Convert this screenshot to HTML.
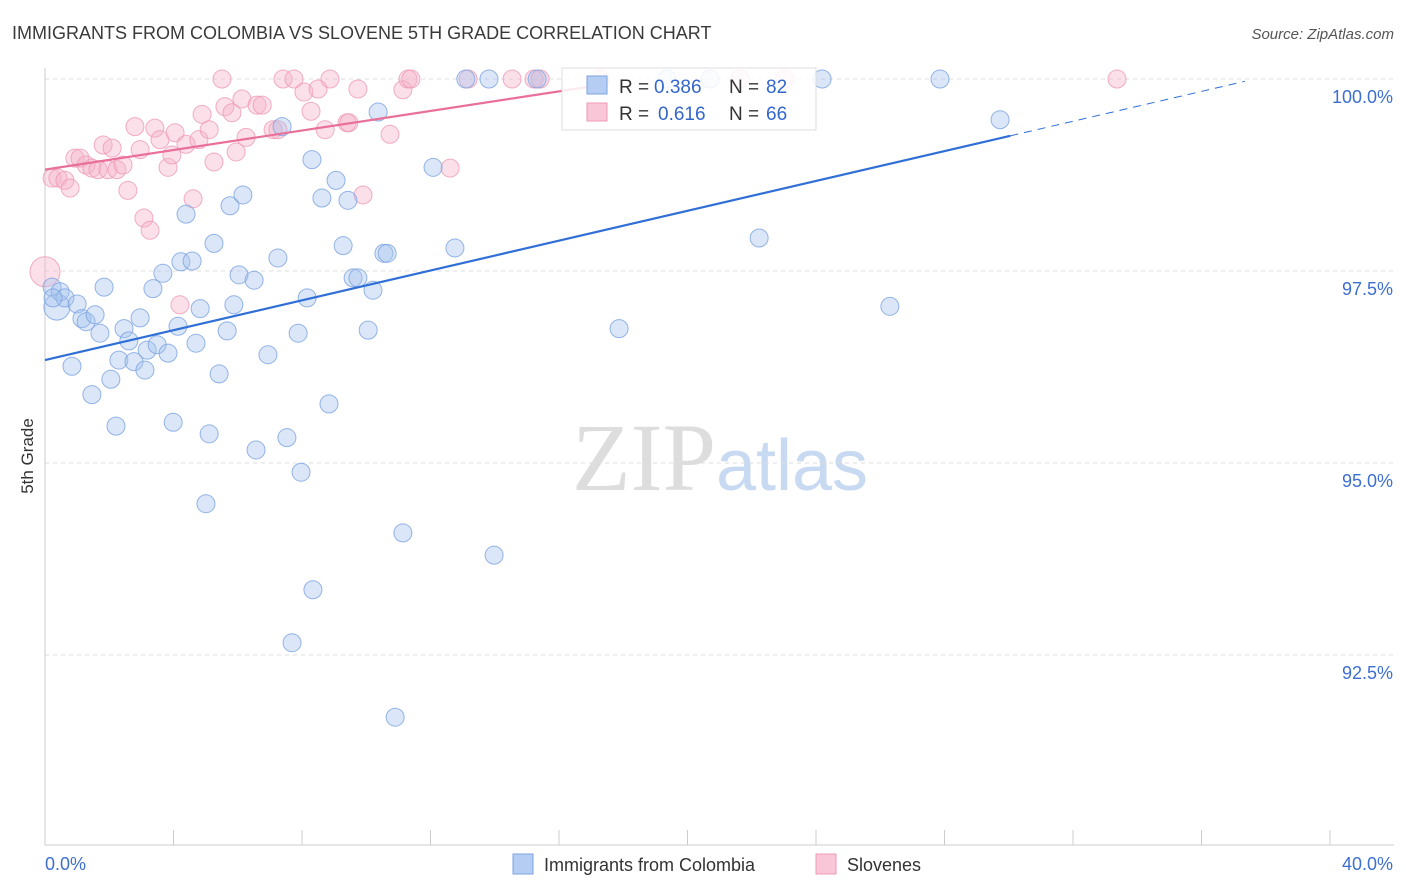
<!DOCTYPE html>
<html><head><meta charset="utf-8"><style>
body{margin:0;background:#fff;font-family:"Liberation Sans",sans-serif;}
</style></head><body>
<svg id="chart" width="1406" height="892" xmlns="http://www.w3.org/2000/svg" style="display:block">
<text x="12" y="39" font-size="18" fill="#3a3a3a">IMMIGRANTS FROM COLOMBIA VS SLOVENE 5TH GRADE CORRELATION CHART</text>
<text x="1394" y="39" font-size="15" fill="#555" font-style="italic" text-anchor="end">Source: ZipAtlas.com</text>
<text x="720" y="490" font-size="96" text-anchor="middle" font-family="Liberation Serif" fill="#ddd">ZIP<tspan fill="#c8d9f2" font-family="Liberation Sans" font-size="72">atlas</tspan></text>
<g id="grid"></g><g id="axes"></g><g id="marks"></g>
<text transform="translate(33,456) rotate(-90)" font-size="17" fill="#333" text-anchor="middle">5th Grade</text>
<g>
<rect x="562" y="68" width="254" height="62" fill="#fff" fill-opacity="0.85" stroke="#ddd"/>
<rect x="587" y="76" width="20" height="18" fill="#b5cdf3" stroke="#7ba3e0"/>
<text x="619" y="93" font-size="19" fill="#333">R =</text>
<text x="654" y="93" font-size="19" fill="#3366cc">0.386</text>
<text x="729" y="93" font-size="19" fill="#333">N =</text>
<text x="766" y="93" font-size="19" fill="#3366cc">82</text>
<rect x="587" y="103" width="20" height="18" fill="#f8c6d6" stroke="#ee9ab6"/>
<text x="619" y="120" font-size="19" fill="#333">R =</text>
<text x="658" y="120" font-size="19" fill="#3366cc">0.616</text>
<text x="729" y="120" font-size="19" fill="#333">N =</text>
<text x="766" y="120" font-size="19" fill="#3366cc">66</text>
</g>
<g><rect x="513" y="854" width="20" height="20" fill="#b5cdf3" stroke="#7ba3e0"/><text x="544" y="871" font-size="18" fill="#333">Immigrants from Colombia</text></g>
<g><rect x="816" y="854" width="20" height="20" fill="#f8c6d6" stroke="#ee9ab6"/><text x="847" y="871" font-size="18" fill="#333">Slovenes</text></g>
</svg>
<script>
const yTicks=[100,97.5,95,92.5];
const yTickLabels=["100.0%","97.5%","95.0%","92.5%"];
const blueX=[0.22,0.37,0.47,0.62,0.84,1.00,1.15,1.28,1.46,1.56,1.71,1.84,2.05,2.21,2.30,2.46,2.61,2.77,2.96,3.11,3.18,3.36,3.49,3.67,3.83,3.99,4.14,4.23,4.39,4.58,4.70,4.83,5.01,5.11,5.26,5.42,5.67,5.76,5.88,6.04,6.16,6.51,6.57,6.94,7.25,7.38,7.53,7.69,7.88,7.97,8.16,8.31,8.34,8.62,8.84,9.06,9.28,9.43,9.59,9.74,10.06,10.21,10.37,10.55,10.65,10.90,11.14,12.08,12.76,13.10,13.82,13.98,15.32,17.87,19.36,22.23,24.19,26.30,27.86,29.73,20.70,0.25];
const blueY=[97.29,97.03,97.23,97.15,96.26,97.07,96.88,96.84,95.89,96.93,96.69,97.29,96.09,95.48,96.34,96.75,96.59,96.32,96.89,96.21,96.47,97.27,96.54,97.47,96.43,95.53,96.78,97.62,98.24,97.63,96.56,97.01,94.47,95.38,97.86,96.16,96.72,98.35,97.06,97.45,98.49,97.38,95.17,96.41,97.67,99.38,95.33,92.66,96.69,94.88,97.15,98.95,93.35,98.45,95.77,98.68,97.83,98.42,97.41,97.41,96.73,97.25,99.57,97.73,97.73,91.69,94.09,98.85,97.80,100,100,93.80,100,96.75,100,97.93,100,97.04,100,99.47,100,97.15];
const pinkX=[0,0.22,0.40,0.62,0.78,0.93,1.09,1.28,1.46,1.65,1.81,1.96,2.09,2.24,2.43,2.58,2.80,2.96,3.08,3.27,3.42,3.58,3.83,3.95,4.05,4.20,4.39,4.61,4.79,4.89,5.11,5.26,5.51,5.60,5.82,5.95,6.13,6.26,6.60,6.76,7.10,7.25,7.41,7.75,8.06,8.28,8.50,8.72,8.87,9.40,9.74,9.90,10.74,11.14,11.30,11.39,12.61,13.17,14.54,15.22,15.41,17.28,21.63,23.03,33.37,9.46];
const pinkY=[97.49,98.71,98.71,98.68,98.58,98.97,98.97,98.88,98.84,98.82,99.14,98.82,99.10,98.82,98.88,98.55,99.38,99.08,98.19,98.03,99.36,99.21,98.85,99.01,99.30,97.06,99.15,98.44,99.21,99.54,99.34,98.92,100,99.64,99.56,99.05,99.74,99.24,99.66,99.66,99.34,99.34,100,100,99.83,99.58,99.87,99.34,100,99.43,99.87,98.49,99.28,99.86,100,100,98.84,100,100,100,100,100,100,100,100,99.43];
const blueTrend=[[0,96.34],[30.05,99.26]];
const blueTrendExt=[[30.05,99.26],[37.35,99.97]];
const pinkTrend=[[0,98.82],[17.28,99.92]];
const NS="http://www.w3.org/2000/svg";
const X=v=>45+v/40*1285, Y=v=>79+(100-v)/2.5*192;
function mk(t,a,p){const e=document.createElementNS(NS,t);for(const k in a)e.setAttribute(k,a[k]);p.appendChild(e);return e;}
const grid=document.getElementById('grid'),axes=document.getElementById('axes'),marks=document.getElementById('marks');
yTicks.forEach((t,i)=>{
 const l=mk('line',{x1:45,x2:1394,y1:Y(t),y2:Y(t),stroke:'#ddd','stroke-dasharray':'4,4'},grid);
 
 
 const tx=mk('text',{x:1393,y:Y(t)+24,'font-size':18,fill:'#3d6fd0','text-anchor':'end'},axes);
 tx.textContent=yTickLabels[i];
 
 
});
const ya=mk('line',{x1:45,x2:45,y1:68,y2:845,stroke:'#ccc'},axes);


const xa=mk('line',{x1:45,x2:1394,y1:845,y2:845,stroke:'#ccc'},axes);


for(let i=0;i<=10;i++){const t=mk('line',{x1:X(i*4),x2:X(i*4),y1:830,y2:845,stroke:'#ccc'},axes);
 
 }
[[0,"0.0%","start",45],[40,"40.0%","end",1393]].forEach(d=>{const t=mk('text',{x:d[3],y:870,'font-size':18,fill:'#3d6fd0','text-anchor':d[2]},axes);t.textContent=d[1];
 
 });
function dots(xs,ys,fill,stroke,name,bigIdx,bigR){xs.forEach((x,i)=>{const c=mk('circle',{cx:X(x),cy:Y(ys[i]),r:i===bigIdx?bigR:9,fill:fill,'fill-opacity':0.4,stroke:stroke,'stroke-opacity':0.8,'stroke-width':1},marks);
 
 });}
dots(pinkX,pinkY,'#f4b2c8','#ee9ab6','slovene-point',0,15);
dots(blueX,blueY,'#a4c2ee','#7ba3e0','colombia-point',1,13);
function ln(p,col,name,dash){const l=mk('line',{x1:X(p[0][0]),y1:Y(p[0][1]),x2:X(p[1][0]),y2:Y(p[1][1]),stroke:col,'stroke-width':dash?1:2.2},marks);if(dash)l.setAttribute('stroke-dasharray','8,6');
 
 }
ln(blueTrend,'#2f6fd6','colombia-trendline');
ln(blueTrendExt,'#2f6fd6','colombia-trendline-extension',true);
ln(pinkTrend,'#e8709a','slovene-trendline');
</script>
</body></html>
